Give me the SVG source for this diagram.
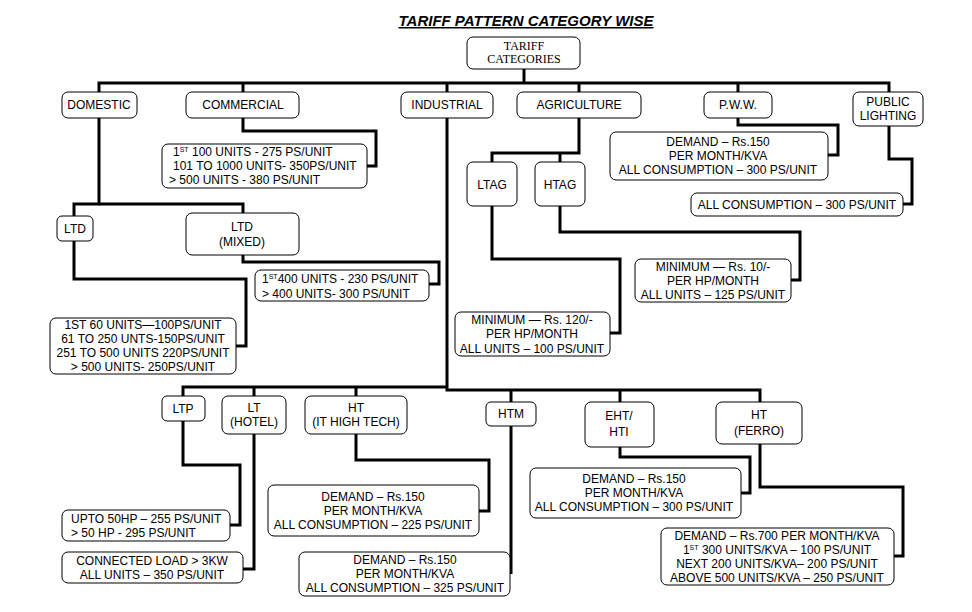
<svg xmlns="http://www.w3.org/2000/svg" width="972" height="612" viewBox="0 0 972 612">
<style>
rect{fill:#fff;stroke:#000;stroke-width:1}
text{font-family:"Liberation Sans",Arial,sans-serif;font-size:12px;text-anchor:middle;fill:#000}
.t{font-family:"Liberation Serif","Times New Roman",serif}
.l{text-anchor:start}
#connectors polyline{fill:none;stroke:#000;stroke-width:3}
.s{font-size:7px}
</style>
<rect x="0" y="0" width="972" height="612" style="fill:#fff;stroke:none"/>
<text x="526" y="26" style="font-size:15px;font-weight:bold;font-style:italic;text-decoration:underline">TARIFF PATTERN CATEGORY WISE</text>
<g id="connectors">
<polyline points="524,69 524,83"/>
<polyline points="99,92 99,83 889,83 889,92"/>
<polyline points="243,83 243,92"/><polyline points="447,83 447,92"/><polyline points="579,83 579,92"/><polyline points="738,83 738,92"/>
<polyline points="243,118 243,131 376,131 376,166 367,166"/>
<polyline points="99,118 99,204 74,204 74,216"/>
<polyline points="99,204 243,204 243,213"/>
<polyline points="74,241 74,279 246,279 246,346 236,346"/>
<polyline points="243,255 243,262 439,262 439,284 429,284"/>
<polyline points="447,118 447,390 760,390 760,402"/>
<polyline points="447,387 183,387 183,396"/>
<polyline points="254,387 254,396"/><polyline points="356,387 356,396"/>
<polyline points="511,390 511,402"/><polyline points="620,390 620,402"/>
<polyline points="183,421 183,465 240,465 240,525 230,525"/>
<polyline points="254,434 254,569 243,569"/>
<polyline points="356,434 356,460 489,460 489,511 479,511"/>
<polyline points="511,426 511,574"/>
<polyline points="620,447 620,457 750,457 750,493 741,493"/>
<polyline points="760,444 760,487 903,487 903,556 894,556"/>
<polyline points="579,118 579,153 492,153 492,162"/>
<polyline points="560,153 560,162"/>
<polyline points="492,206 492,259 620,259 620,333 610,333"/>
<polyline points="560,206 560,232 800,232 800,280 791,280"/>
<polyline points="738,118 738,125 838,125 838,155 828,155"/>
<polyline points="889,126 889,159 912,159 912,204 903,204"/>
</g>
<g id="root"><rect x="467" y="37" width="113" height="32" rx="6"/><text class="t" x="524" y="50">TARIFF</text><text class="t" x="524" y="63">CATEGORIES</text></g>
<g id="domestic"><rect x="62" y="92" width="75" height="26" rx="6"/><text x="99" y="109">DOMESTIC</text></g>
<g id="commercial"><rect x="186" y="92" width="113" height="26" rx="6"/><text x="243" y="109">COMMERCIAL</text></g>
<g id="industrial"><rect x="401" y="92" width="92" height="26" rx="6"/><text x="447" y="109">INDUSTRIAL</text></g>
<g id="agriculture"><rect x="517" y="92" width="124" height="26" rx="6"/><text x="579" y="109">AGRICULTURE</text></g>
<g id="pww"><rect x="704" y="92" width="68" height="26" rx="6"/><text x="738" y="109">P.W.W.</text></g>
<g id="public"><rect x="853" y="92" width="70" height="34" rx="6"/><text x="888" y="106">PUBLIC</text><text x="888" y="120">LIGHTING</text></g>
<g id="comm-tariff"><rect x="162" y="144" width="205" height="44" rx="6"/>
<text class="l" x="173" y="156">1<tspan class="s" dy="-4">ST</tspan><tspan dy="4"> 100 UNITS    -    275 PS/UNIT</tspan></text>
<text class="l" x="173" y="170">101 TO 1000 UNITS- 350PS/UNIT</text>
<text class="l" x="169" y="184">&gt; 500 UNITS  -           380 PS/UNIT</text></g>
<g id="ltd"><rect x="57" y="216" width="36" height="25" rx="5"/><text x="75" y="233">LTD</text></g>
<g id="ltdmixed"><rect x="186" y="213" width="113" height="42" rx="6"/><text x="242" y="231">LTD</text><text x="242" y="246">(MIXED)</text></g>
<g id="ltd-tariff"><rect x="50" y="318" width="186" height="56" rx="6"/>
<text x="143" y="329">1ST 60 UNITS—100PS/UNIT</text><text x="143" y="343">61 TO 250 UNTS-150PS/UNIT</text><text x="143" y="357">251 TO 500 UNITS 220PS/UNIT</text><text x="143" y="371">&gt; 500 UNITS- 250PS/UNIT</text></g>
<g id="ltdmixed-tariff"><rect x="255" y="270" width="174" height="31" rx="6"/>
<text class="l" x="262" y="283">1<tspan class="s" dy="-4">ST</tspan><tspan dy="4">400 UNITS -  230 PS/UNIT</tspan></text>
<text class="l" x="262" y="298">&gt; 400 UNITS-     300 PS/UNIT</text></g>
<g id="ltag"><rect x="467" y="162" width="50" height="44" rx="6"/><text x="492" y="189">LTAG</text></g>
<g id="htag"><rect x="535" y="162" width="50" height="44" rx="6"/><text x="560" y="189">HTAG</text></g>
<g id="ltag-tariff"><rect x="455" y="312" width="155" height="44" rx="6"/><text x="532" y="324">MINIMUM — Rs. 120/-</text><text x="532" y="338">PER HP/MONTH</text><text x="532" y="353">ALL UNITS – 100 PS/UNIT</text></g>
<g id="htag-tariff"><rect x="635" y="259" width="156" height="43" rx="6"/><text x="713" y="271">MINIMUM — Rs. 10/-</text><text x="713" y="285">PER HP/MONTH</text><text x="713" y="299">ALL UNITS – 125 PS/UNIT</text></g>
<g id="pww-tariff"><rect x="610" y="132" width="218" height="48" rx="6"/><text x="718" y="146">DEMAND – Rs.150</text><text x="718" y="160">PER MONTH/KVA</text><text x="718" y="174">ALL CONSUMPTION – 300 PS/UNIT</text></g>
<g id="public-tariff"><rect x="691" y="193" width="212" height="23" rx="6"/><text x="797" y="209">ALL CONSUMPTION – 300 PS/UNIT</text></g>
<g id="ltp"><rect x="162" y="396" width="43" height="25" rx="5"/><text x="183" y="413">LTP</text></g>
<g id="lthotel"><rect x="222" y="396" width="64" height="38" rx="6"/><text x="254" y="412">LT</text><text x="254" y="426">(HOTEL)</text></g>
<g id="htit"><rect x="305" y="396" width="102" height="38" rx="6"/><text x="356" y="412">HT</text><text x="356" y="426">(IT HIGH TECH)</text></g>
<g id="htm"><rect x="486" y="402" width="50" height="24" rx="5"/><text x="511" y="418">HTM</text></g>
<g id="eht"><rect x="585" y="402" width="69" height="45" rx="6"/><text x="619" y="420">EHT/</text><text x="619" y="436">HTI</text></g>
<g id="htferro"><rect x="716" y="402" width="86" height="42" rx="6"/><text x="759" y="419">HT</text><text x="759" y="435">(FERRO)</text></g>
<g id="ltp-tariff"><rect x="62" y="510" width="168" height="31" rx="6"/><text class="l" x="71" y="523">UPTO 50HP – 255 PS/UNIT</text><text class="l" x="71" y="537">&gt; 50 HP  -       295 PS/UNIT</text></g>
<g id="lthotel-tariff"><rect x="62" y="552" width="181" height="31" rx="6"/><text x="152" y="565">CONNECTED LOAD &gt; 3KW</text><text x="152" y="579">ALL UNITS – 350 PS/UNIT</text></g>
<g id="htit-tariff"><rect x="268" y="485" width="211" height="51" rx="6"/><text x="373" y="501">DEMAND – Rs.150</text><text x="373" y="515">PER MONTH/KVA</text><text x="373" y="529">ALL CONSUMPTION – 225 PS/UNIT</text></g>
<g id="htm-tariff"><rect x="299" y="552" width="211" height="44" rx="6"/><text x="405" y="564">DEMAND – Rs.150</text><text x="405" y="578">PER MONTH/KVA</text><text x="405" y="592">ALL CONSUMPTION – 325 PS/UNIT</text></g>
<g id="eht-tariff"><rect x="530" y="468" width="211" height="50" rx="6"/><text x="634" y="483">DEMAND – Rs.150</text><text x="634" y="497">PER MONTH/KVA</text><text x="634" y="511">ALL CONSUMPTION – 300 PS/UNIT</text></g>
<g id="htferro-tariff"><rect x="661" y="528" width="233" height="57" rx="6"/>
<text x="777" y="540">DEMAND – Rs.700 PER MONTH/KVA</text>
<text x="777" y="554">1<tspan class="s" dy="-4">ST</tspan><tspan dy="4"> 300 UNITS/KVA   – 100 PS/UNIT</tspan></text>
<text x="777" y="568">NEXT 200 UNITS/KVA– 200 PS/UNIT</text>
<text x="777" y="582">ABOVE 500 UNITS/KVA – 250 PS/UNIT</text></g>
</svg>
